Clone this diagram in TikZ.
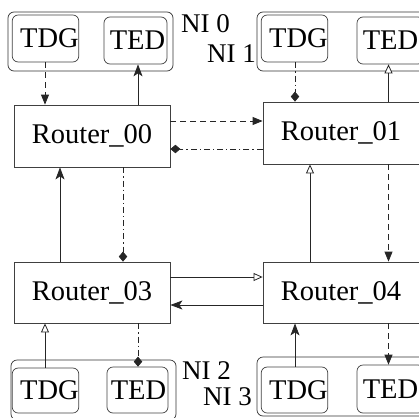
\documentclass[tikz,border=0pt]{standalone}
\usepackage{fontspec}
\setmainfont{Liberation Serif}
\usetikzlibrary{arrows.meta}
\tikzset{
  router/.style={draw=black!75, line width=0.8pt, rectangle, inner sep=0pt, minimum width=156pt, minimum height=62pt, font=\fontsize{28.5}{30}\selectfont},
  ibox/.style={draw=black!75, line width=0.7pt, rectangle, rounded corners=6pt, inner sep=0pt, minimum width=63pt, minimum height=47pt, font=\fontsize{28.5}{30}\selectfont},
  obox/.style={draw=black!80, line width=0.7pt, rectangle, rounded corners=6pt, inner sep=0pt},
  nilabel/.style={inner sep=0pt, font=\fontsize{27}{28}\selectfont, anchor=base west},
  conn/.style={line width=0.8pt, black!85},
  dsh/.style={dash pattern=on 6pt off 4pt},
  dshdot/.style={dash pattern=on 6pt off 3pt on 1.2pt off 3pt},
  tri/.style={-{Triangle[length=10pt,width=8pt]}},
  stl/.style={-{Stealth[length=12pt,width=9pt,inset=3pt]}},
  otri/.style={-{Triangle[open,length=9pt,width=8pt,fill=white]}},
  dia/.style={-{Diamond[length=10pt,width=8.5pt]}},
}
\begin{document}
\begin{tikzpicture}[x=1pt,y=-1pt]
\useasboundingbox (0,0) rectangle (419,417);
% NI outer boxes
\node[obox, minimum width=165pt, minimum height=59pt] (niA) at (90.5,41.5) {};
\node[obox, minimum width=175pt, minimum height=59pt] (niB) at (344.5,41.5) {};
\node[obox, minimum width=165pt, minimum height=60pt] (niC) at (93.5,390) {};
\node[obox, minimum width=175pt, minimum height=59pt] (niD) at (344.5,386.5) {};
% inner boxes
\node[ibox] (tdgA) at (45.5,38.5) {\hspace*{8pt}TDG};
\node[ibox] (tedA) at (135.5,40.5) {\hspace*{4pt}TED};
\node[ibox] (tdgB) at (294.5,38.5) {\hspace*{8pt}TDG};
\node[ibox, minimum width=67pt] (tedB) at (390.5,40.5) {TED};
\node[ibox, minimum height=45pt] (tdgC) at (45.5,390.5) {\hspace*{8pt}TDG};
\node[ibox, minimum width=61pt, minimum height=46pt] (tedC) at (137.5,390) {\hspace*{2pt}TED};
\node[ibox, minimum height=46pt] (tdgD) at (294.5,390) {\hspace*{8pt}TDG};
\node[ibox, minimum width=67pt, minimum height=48pt] (tedD) at (390.5,389) {TED};
% NI labels
\node[nilabel] (lab0) at (181,33) {NI 0};
\node[nilabel] (lab1) at (207,63) {NI 1};
\node[nilabel] (lab2) at (182,379) {NI 2};
\node[nilabel] (lab3) at (203,405) {NI 3};
% routers
\node[router] (r00) at (92,136) {Router\_00};
\node[router, minimum width=158pt] (r01) at (342,133) {\hspace*{-2pt}Router\_01};
\node[router, minimum height=61pt] (r03) at (92,292.5) {Router\_03};
\node[router, minimum width=158pt, minimum height=61pt] (r04) at (342,292.5) {\hspace*{-2pt}Router\_04};
% column / row helpers
\coordinate (cA) at (45,0);
\coordinate (cB) at (60,0);
\coordinate (cC) at (123,0);
\coordinate (cD) at (138,0);
\coordinate (cE) at (295,0);
\coordinate (cF) at (310,0);
\coordinate (cG) at (388.5,0);
\coordinate (rA) at (0,121);
\coordinate (rB) at (0,149);
\coordinate (rC) at (0,277);
\coordinate (rD) at (0,305);
% connectors
\draw[conn, dsh, tri] (tdgA.south -| cA) -- (r00.north -| cA);
\draw[conn, stl] (r00.north -| cD) -- (tedA.south -| cD);
\draw[conn, dsh, tri] (r00.east |- rA) -- (r01.west |- rA);
\draw[conn, dshdot, dia] (r01.west |- rB) -- (r00.east |- rB);
\draw[conn, dshdot, dia] (r00.south -| cC) -- (r03.north -| cC);
\draw[conn, stl] (r03.north -| cB) -- (r00.south -| cB);
\draw[conn, dshdot, dia] (tdgB.south -| cE) -- (r01.north -| cE);
\draw[conn, otri] (r01.north -| cG) -- (tedB.south -| cG);
\draw[conn, otri] (r04.north -| cF) -- (r01.south -| cF);
\draw[conn, dsh, tri] (r01.south -| cG) -- (r04.north -| cG);
\draw[conn, otri] (r03.east |- rC) -- (r04.west |- rC);
\draw[conn, stl] (r04.west |- rD) -- (r03.east |- rD);
\draw[conn, otri] (tdgC.north -| cA) -- (r03.south -| cA);
\draw[conn, dshdot, dia] (r03.south -| cD) -- (tedC.north -| cD);
\draw[conn, stl] (tdgD.north -| cE) -- (r04.south -| cE);
\draw[conn, dsh, tri] (r04.south -| cG) -- (tedD.north -| cG);
\end{tikzpicture}
\end{document}
